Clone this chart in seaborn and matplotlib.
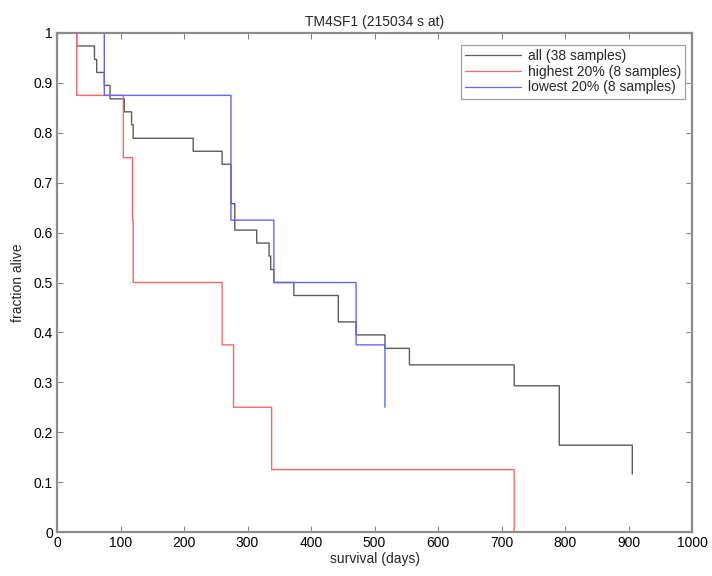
import matplotlib
matplotlib.use('Agg')
import matplotlib.pyplot as plt
import pandas as pd
import seaborn as sns

# Kaplan-Meier curves (step times in days, survival after the step)
dias_todos = [0, 31, 59, 62.5, 74.5, 83.5, 106, 117.5, 120, 214.5, 260, 274, 280, 314.5,
              334, 336.5, 341.5, 373, 443, 471, 516.5, 555, 720, 791, 906]
sobrev_todos = [1, 0.974, 0.947, 0.921, 0.895, 0.868, 0.842, 0.816, 0.789, 0.763, 0.737,
                0.658, 0.605, 0.579, 0.553, 0.526, 0.5, 0.474, 0.421, 0.395, 0.368, 0.335,
                0.293, 0.174, 0.116]

dias_alto = [0, 31, 104.5, 119, 120, 260, 278, 338, 720]
sobrev_alto = [1, 0.875, 0.75, 0.625, 0.5, 0.375, 0.25, 0.125, 0]

dias_baixo = [0, 74.5, 274, 341.5, 471, 516.5]
sobrev_baixo = [1, 0.875, 0.625, 0.5, 0.375, 0.25]

rotulos = ['all (38 samples)', 'highest 20% (8 samples)', 'lowest 20% (8 samples)']
cores = ['#5c5c5c', '#ff6464', '#6464ff']

sns.set_style('white', {
    'xtick.direction': 'in', 'ytick.direction': 'in',
    'xtick.top': True, 'ytick.right': True,
    'xtick.bottom': True, 'ytick.left': True,
    'axes.edgecolor': '#888888',
})
plt.rcParams['font.family'] = ['Liberation Sans', 'DejaVu Sans']

fig = plt.figure(figsize=(7.12, 5.76), dpi=100)
ax = fig.add_axes([57 / 712, 44 / 576, 635 / 712, 499 / 576])

curvas = [(dias_todos, sobrev_todos), (dias_alto, sobrev_alto), (dias_baixo, sobrev_baixo)]
for (dias, sobrev), rotulo, cor in zip(curvas, rotulos, cores):
    df = pd.DataFrame({'dias': dias, 'sobrev': sobrev})
    sns.lineplot(data=df, x='dias', y='sobrev', estimator=None, sort=False,
                 drawstyle='steps-post', color=cor, linewidth=1.0, label=rotulo,
                 clip_on=False, snap=False, ax=ax)

ax.set_xlim(0, 1000)
ax.set_ylim(0, 1)
ax.set_xticks(range(0, 1001, 100))
ax.set_yticks([i / 10 for i in range(11)])
ax.set_yticklabels(['0'] + ['0.%d' % i for i in range(1, 10)] + ['1'])
ax.tick_params(axis='both', which='both', length=4, width=0.8, color='#888888',
               labelsize=10, labelcolor='black', pad=3)
for lado in ax.spines.values():
    lado.set_linewidth(1.6)
    lado.set_color('#8c8c8c')
    lado.set_zorder(5)
    lado.set_snap(False)

ax.set_title('TM4SF1 (215034 s at)', fontsize=10, pad=5)
ax.set_xlabel('survival (days)', fontsize=10, labelpad=1)
ax.set_ylabel('fraction alive', fontsize=10, labelpad=6)

leg = ax.legend(loc='upper right', fontsize=10, frameon=True, fancybox=False,
                handlelength=4.0, handletextpad=0.5, borderpad=0.3, labelspacing=0.12,
                bbox_to_anchor=(1.0, 0.99))
leg.get_frame().set_edgecolor('#888888')
leg.get_frame().set_linewidth(0.9)
leg.set_zorder(6)
for linha in leg.get_lines():
    linha.set_linewidth(0.9)

fig.savefig('out.png', dpi=100)
